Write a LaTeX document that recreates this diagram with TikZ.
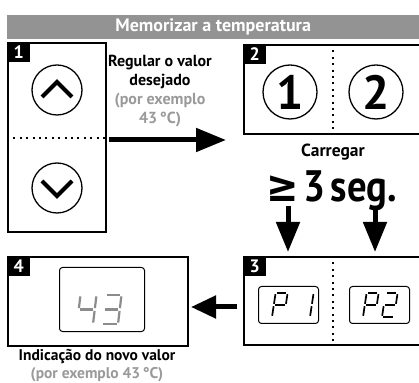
\documentclass[tikz,border=0pt]{standalone}
\usepackage{fontspec}
\setmainfont{PT Sans}
\newfontfamily\symf{DejaVu Sans}
\usetikzlibrary{arrows.meta}
\definecolor{bargray}{HTML}{939393}
\definecolor{txtgray}{HTML}{9A9A9A}
\definecolor{lcdgray}{HTML}{8C8C8C}
\newcommand\segW{12}
\newcommand\segH{24}
\newcommand\segG{1.2}
\newcommand\sA{\draw (\segG,\segH) -- ({\segW-\segG},\segH);}
\newcommand\sB{\draw (\segW,{\segH-\segG}) -- (\segW,{\segH/2+\segG});}
\newcommand\sC{\draw (\segW,{\segH/2-\segG}) -- (\segW,\segG);}
\newcommand\sD{\draw (\segG,0) -- ({\segW-\segG},0);}
\newcommand\sE{\draw (0,\segG) -- (0,{\segH/2-\segG});}
\newcommand\sF{\draw (0,{\segH/2+\segG}) -- (0,{\segH-\segG});}
\newcommand\sG{\draw (\segG,{\segH/2}) -- ({\segW-\segG},{\segH/2});}
\tikzset{
  panel/.style={draw=black, line width=2pt, inner sep=0pt},
  tag/.style={fill=black, text=white, font=\fontsize{18}{18}\selectfont\bfseries, minimum width=23pt, minimum height=20pt, inner sep=0pt, anchor=north west},
  btn/.style={draw=black, line width=1.3pt, circle, inner sep=0pt},
  divider/.style={line width=2pt, dash pattern=on 2pt off 4.4pt},
  lcd/.style={draw=black, line width=1pt, rounded corners=3pt, inner sep=0pt},
  bigarrow/.style={line width=5pt, -{Triangle[length=30pt, width=23pt]}},
  chev/.style={line width=4.2pt, line join=miter},
  segs/.style={line width=1.7pt, line cap=butt},
  lbl/.style={font=\fontsize{16}{19}\selectfont\bfseries, align=center, inner sep=0pt},
}
\begin{document}
\begin{tikzpicture}[x=1pt,y=1pt]
\clip (0,0) rectangle (419,382);
\fill[white] (0,0) rectangle (419,382);
% title bar
\node[fill=bargray, minimum width=412pt, minimum height=24pt, inner sep=0pt, anchor=north west, text=white, font=\fontsize{18}{18}\selectfont\bfseries] (title) at (7,367) {Memorizar a temperatura};
% panel 1
\node[panel, minimum width=98pt, minimum height=189pt, anchor=north west] (p1) at (7,340) {};
\node[tag] (t1) at (7,340) {1};
\draw[divider] (p1.west |- 0,244) -- (p1.east |- 0,244);
\node[btn, minimum size=50pt] (up) at (57,292) {};
\node[btn, minimum size=50pt] (down) at (57,194) {};
\draw[chev] ([shift={(-15,-7)}]up.center) -- ([shift={(0,8)}]up.center) -- ([shift={(15,-7)}]up.center);
\draw[chev] ([shift={(-15,7)}]down.center) -- ([shift={(0,-8)}]down.center) -- ([shift={(15,7)}]down.center);
% text between 1 and 2
\node[lbl] (reg) at (160,291) {Regular o valor\\desejado\\\textcolor{txtgray}{(por exemplo}\\\textcolor{txtgray}{43\,°C)}};
\coordinate (a1s) at (109,242);
\coordinate (a1e) at (226,242);
\draw[bigarrow] (a1s) -- (a1e);
% panel 2
\node[panel, minimum width=182pt, minimum height=89pt, anchor=north west] (p2) at (243,338) {};
\node[tag] (t2) at (243,338) {2};
\draw[divider] (333,338) -- (333,249);
\node[btn, minimum size=54pt, font=\fontsize{48}{48}\selectfont\bfseries] (b1) at (290,290) {1};
\node[btn, minimum size=54pt, font=\fontsize{48}{48}\selectfont\bfseries] (b2) at (376,290) {2};
% Carregar
\node[font=\fontsize{17.5}{17.5}\selectfont\bfseries, inner sep=0pt] (carr) at (333,230) {Carregar};
\node[font=\fontsize{44}{44}\selectfont\bfseries, inner sep=0pt, xscale=0.88] (secs) at (332,191) {{\symf\bfseries ≥}\hspace{5pt}3\hspace{6pt}seg.};
\coordinate (d1s) at (288,176);
\coordinate (d1e) at (288,130);
\coordinate (d2s) at (375,176);
\coordinate (d2e) at (375,130);
\draw[bigarrow] (d1s) -- (d1e);
\draw[bigarrow] (d2s) -- (d2e);
% panel 3
\node[panel, minimum width=182pt, minimum height=88pt, anchor=north west] (p3) at (243,126) {};
\node[tag] (t3) at (243,126) {3};
\draw[divider] (333,126) -- (333,38);
\node[lcd, minimum width=60pt, minimum height=37pt, anchor=south west] (lp1) at (258,58) {};
\node[lcd, minimum width=60pt, minimum height=37pt, anchor=south west] (lp2) at (349,58) {};
\begin{scope}[segs]
\begin{scope}[shift={(272,65)}, xslant=0.15]\sA\sB\sE\sF\sG\end{scope}
\begin{scope}[shift={(298,65)}, xslant=0.15]\sB\sC\end{scope}
\begin{scope}[shift={(363,65)}, xslant=0.15]\sA\sB\sE\sF\sG\end{scope}
\begin{scope}[shift={(382,65)}, xslant=0.15]\sA\sB\sG\sE\sD\end{scope}
\end{scope}
% arrow 3 -> 4
\coordinate (a3s) at (237,75);
\coordinate (a3e) at (191,75);
\draw[line width=5pt, -{Triangle[length=25pt, width=22pt]}] (a3s) -- (a3e);
% panel 4
\node[panel, minimum width=180pt, minimum height=89pt, anchor=north west] (p4) at (7,126) {};
\node[tag] (t4) at (7,126) {4};
\node[lcd, minimum width=85pt, minimum height=64pt, anchor=south west] (lp4) at (59,50) {};
\renewcommand\segW{16}
\renewcommand\segH{29}
\renewcommand\segG{1.4}
\begin{scope}[segs, draw=lcdgray, line width=2.2pt]
\begin{scope}[shift={(77,58)}, xslant=0.12]\sF\sG\sB\sC\end{scope}
\begin{scope}[shift={(102,58)}, xslant=0.12]\sA\sB\sG\sC\sD\end{scope}
\end{scope}
\node[lbl, font=\fontsize{15.5}{19}\selectfont\bfseries] (ind) at (97,25) {Indicação do novo valor};
\node[lbl, font=\fontsize{15.5}{19}\selectfont\bfseries, text=txtgray] (ex) at (97,7) {(por exemplo 43\,°C)};
\end{tikzpicture}
\end{document}
